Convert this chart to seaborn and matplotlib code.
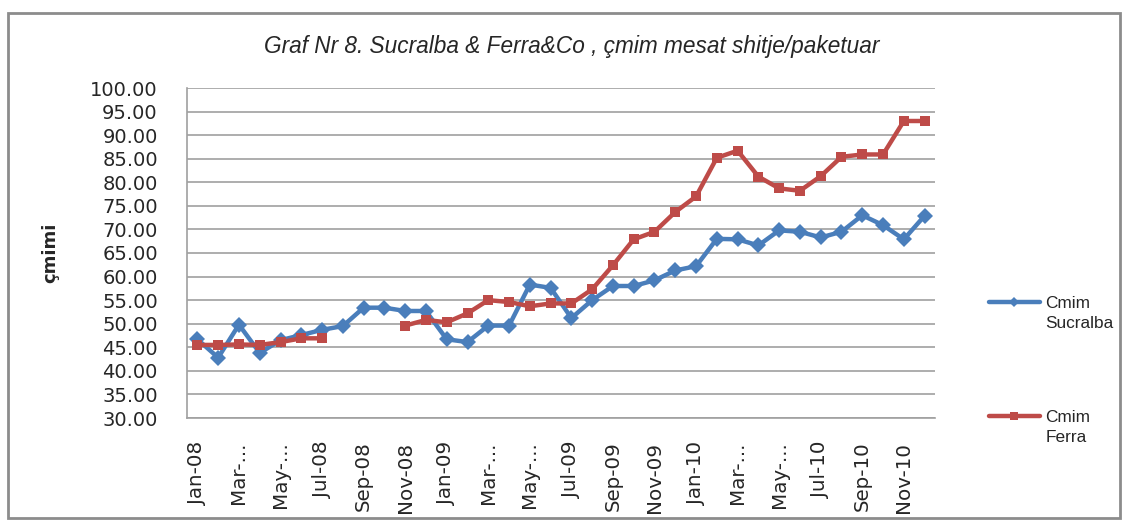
import numpy as np
import pandas as pd
import matplotlib
matplotlib.use("Agg")
import matplotlib.pyplot as plt
from matplotlib.lines import Line2D
from matplotlib.patches import Rectangle
from matplotlib.legend_handler import HandlerLine2D
import seaborn as sns

months = ["Jan-08", "Feb-08", "Mar-08", "Apr-08", "May-08", "Jun-08", "Jul-08", "Aug-08",
          "Sep-08", "Oct-08", "Nov-08", "Dec-08", "Jan-09", "Feb-09", "Mar-09", "Apr-09",
          "May-09", "Jun-09", "Jul-09", "Aug-09", "Sep-09", "Oct-09", "Nov-09", "Dec-09",
          "Jan-10", "Feb-10", "Mar-10", "Apr-10", "May-10", "Jun-10", "Jul-10", "Aug-10",
          "Sep-10", "Oct-10", "Nov-10", "Dec-10"]

sucralba = [46.7, 42.8, 49.8, 43.8, 46.5, 47.6, 48.7, 49.5, 53.4, 53.4, 52.7, 52.7,
            46.7, 46.1, 49.6, 49.6, 58.3, 57.6, 51.2, 55.0, 58.0, 58.0, 59.2, 61.3,
            62.2, 68.0, 67.9, 66.6, 69.8, 69.5, 68.3, 69.5, 73.0, 70.9, 67.9, 72.9]

ferra = [45.5, 45.5, 45.6, 45.5, 46.1, 46.9, 46.9, np.nan, np.nan, np.nan, 49.6, 50.8,
         50.3, 52.2, 55.0, 54.6, 53.7, 54.3, 54.3, 57.3, 62.4, 67.9, 69.5, 73.7,
         77.0, 85.2, 86.7, 81.2, 78.7, 78.2, 81.3, 85.4, 85.9, 85.9, 93.0, 93.0]

tick_labels = ["Jan-08", "Mar-...", "May-...", "Jul-08", "Sep-08", "Nov-08", "Jan-09",
               "Mar-...", "May-...", "Jul-09", "Sep-09", "Nov-09", "Jan-10", "Mar-...",
               "May-...", "Jul-10", "Sep-10", "Nov-10"]

series_names = ["Cmim\nSucralba", "Cmim\nFerra"]
title = "Graf Nr 8. Sucralba & Ferra&Co , çmim mesat shitje/paketuar"
ylabel = "çmimi"

blue = "#4A7EBB"
red = "#BE4B48"

sns.set_style("white")
plt.rcParams['font.family'] = ['DejaVu Sans']
narrow = ['Liberation Sans Narrow', 'Liberation Sans', 'DejaVu Sans']


class TopLineHandler(HandlerLine2D):
    """Place the legend line level with the first text line."""
    def create_artists(self, legend, orig_handle, xdescent, ydescent,
                       width, height, fontsize, trans):
        return super().create_artists(legend, orig_handle, xdescent,
                                      ydescent - 17, width, height,
                                      fontsize, trans)


idx = np.arange(len(months))
df_s = pd.DataFrame({"x": idx, "y": sucralba, "seg": 0})
fer = np.array(ferra, dtype=float)
seg = np.cumsum(np.isnan(fer))
df_f = pd.DataFrame({"x": idx, "y": fer, "seg": seg}).dropna()

W, H = 1125, 524
fig = plt.figure(figsize=(W / 100, H / 100), dpi=100)
ax = fig.add_axes([187/W, 1-418/H, (935-187)/W, (418-88)/H])

sns.lineplot(data=df_s, x="x", y="y", units="seg", estimator=None, ax=ax,
             color=blue, lw=3.2, marker="D", markersize=8.5, markeredgewidth=0,
             markerfacecolor=blue, legend=False)
sns.lineplot(data=df_f, x="x", y="y", units="seg", estimator=None, ax=ax,
             color=red, lw=3.2, marker="s", markersize=6.5, markeredgewidth=0,
             markerfacecolor=red, legend=False)

ax.set_xlim(-0.5, len(months) - 0.5)
ax.set_ylim(30, 100)
yt = np.arange(30, 100.1, 5)
ax.set_yticks(yt)
ax.set_yticklabels([f"{v:.2f}" for v in yt], fontsize=14)
ax.set_xticks(idx[::2])
ax.set_xticklabels(tick_labels, rotation=90, fontsize=14.3)
ax.tick_params(axis='y', length=0, pad=21)
ax.tick_params(axis='x', length=0, pad=17)
ax.set_xlabel("")
ax.set_ylabel("")
ax.yaxis.grid(True, color="#A0A0A0", lw=1.2)
ax.set_axisbelow(True)
for s in ["top", "right"]:
    ax.spines[s].set_visible(False)
for s in ["left", "bottom"]:
    ax.spines[s].set_color("#A0A0A0")
    ax.spines[s].set_linewidth(1.2)

fig.text(572/W, 1-47/H, title, ha="center", va="center", fontsize=16.3,
         style="italic", family=narrow)
fig.text(50/W, 1-253/H, ylabel, ha="center", va="center", rotation=90,
         fontsize=13, fontweight="bold")

h1 = Line2D([], [], color=blue, lw=3.2, marker="D", markersize=5, markeredgewidth=0)
h2 = Line2D([], [], color=red, lw=3.2, marker="s", markersize=6, markeredgewidth=0)
for h, name, ytop in [(h1, series_names[0], 296), (h2, series_names[1], 410)]:
    leg = fig.legend([h], [name], loc="upper left",
                     bbox_to_anchor=(989/W, 1-ytop/H), frameon=False,
                     prop={'family': narrow, 'size': 12.4}, handlelength=2.96,
                     handletextpad=0.3, borderaxespad=0, borderpad=0,
                     handler_map={Line2D: TopLineHandler()})
    for t in leg.get_texts():
        t.set_linespacing(1.45)

fig.patches.append(Rectangle((8/W, 6/H), 1112/W, 505/H,
                             transform=fig.transFigure, fill=False,
                             edgecolor="#8C8C8C", lw=2))

fig.savefig("out.png", dpi=100)
